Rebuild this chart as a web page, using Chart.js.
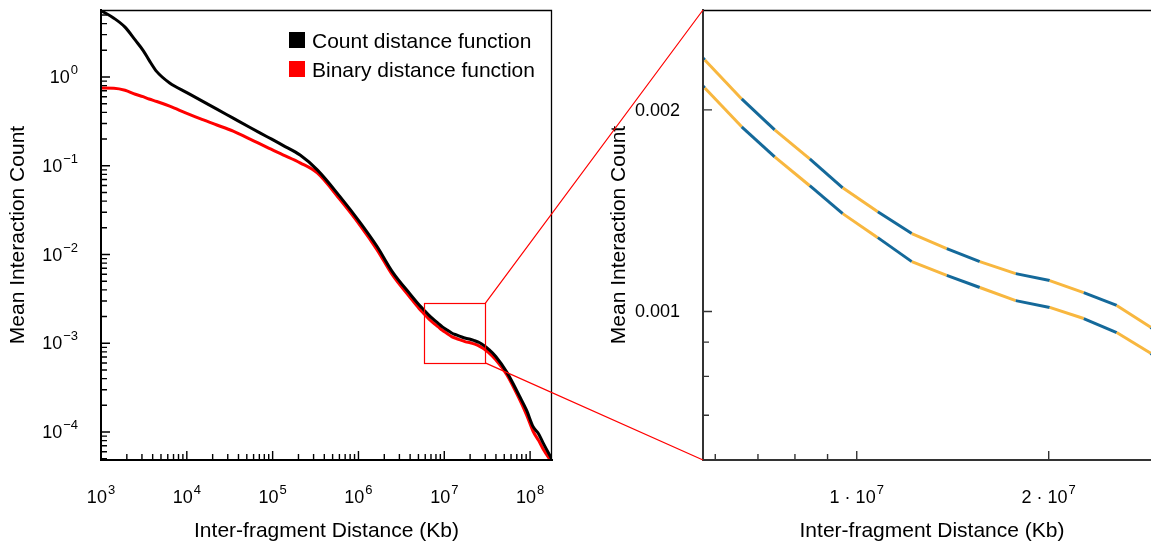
<!DOCTYPE html>
<html>
<head>
<meta charset="utf-8">
<script src="https://cdn.jsdelivr.net/npm/chart.js@4.4.1/dist/chart.umd.min.js"></script>
<style>
  html, body { margin: 0; padding: 0; background: #fff; overflow: hidden; }
  #wrap { position: relative; width: 1151px; height: 546px; overflow: hidden; background: #fff; }
  #c1 { position: absolute; left: 0; top: 0; }
  #c2 { position: absolute; left: 580px; top: 0; }
  #ov { position: absolute; left: 0; top: 0; pointer-events: none; }
  .lg { position: absolute; font: 21px "Liberation Sans", Arial, Helvetica, sans-serif; color: #000; line-height: 21px; white-space: nowrap; }
  .sw { position: absolute; width: 16px; height: 16px; }
</style>
</head>
<body>
<div id="wrap">
  <canvas id="c1" width="560" height="546"></canvas>
  <canvas id="c2" width="600" height="546"></canvas>
  <canvas id="ov" width="1151" height="546"></canvas>
  <div id="legend"></div>
</div>
<script>
// ---------------- data ----------------
const distanceKb = [1000, 1413, 1905, 2512, 3090, 3631, 4467, 6310, 10000, 14256, 22387, 34674, 54576, 85114,
  131826, 208930, 331131, 609537, 1047129, 1648162, 2511886, 3981072, 5105000,
  5778000, 6601000, 7436000, 8440000, 9506000, 10790000, 12199000, 13840000, 15595000, 17755000,
  20073000, 22694000, 25567000, 28907000, 32680000, 39810000, 53700000, 75860000, 91200000,
  108390000, 125890000, 141250000, 180300000];
const countDistance = [5.6, 4.6, 3.65, 2.6, 2.0, 1.55, 1.15, 0.857, 0.668, 0.552, 0.435, 0.344, 0.270, 0.214,
  0.170, 0.132, 0.090, 0.0449, 0.0229, 0.0123, 0.0063, 0.0036, 0.0027,
  0.002375, 0.002077, 0.001867, 0.001690, 0.001530, 0.001409, 0.001307, 0.001241, 0.001187, 0.001139,
  0.001112, 0.001067, 0.001021, 0.000947, 0.00086, 0.00071, 0.00047, 0.00025, 0.000175,
  0.000115, 0.000095, 0.000076, 0.000049];
const binaryDistance = [0.752, 0.748, 0.71, 0.64, 0.60, 0.565, 0.53, 0.47, 0.389, 0.339, 0.288, 0.245, 0.200, 0.162,
  0.133, 0.108, 0.083, 0.0415, 0.0212, 0.0113, 0.0058, 0.0033, 0.00245,
  0.002157, 0.001887, 0.001702, 0.001541, 0.001400, 0.001289, 0.001187, 0.001132, 0.001086, 0.001038,
  0.001014, 0.000976, 0.000930, 0.000866, 0.000787, 0.00065, 0.00044, 0.00023, 0.000155,
  0.000102, 0.00008, 0.000065, 0.000045];
const seriesNames = ['Count distance function', 'Binary distance function'];

const leftXRange = [1e3, 1.8e8];
const leftYRange = [4.84e-5, 5.69];
const leftXTicks = [1e3, 1e4, 1e5, 1e6, 1e7, 1e8];
const leftXTickLabels = [['10', '3'], ['10', '4'], ['10', '5'], ['10', '6'], ['10', '7'], ['10', '8']];
const leftYTicks = [1e-4, 1e-3, 1e-2, 1e-1, 1];
const leftYTickLabels = [['10', '−4'], ['10', '−3'], ['10', '−2'], ['10', '−1'], ['10', '0']];
const minorMultipliers = [2, 3, 4, 5, 6, 7, 8, 9];
const leftXMinorDecades = [1e3, 1e4, 1e5, 1e6, 1e7];
const leftYMinorDecades = [1e-5, 1e-4, 1e-3, 1e-2, 1e-1, 1];

const zoomXRange = [5.74e6, 3.0e7];
const zoomYRange = [6.02e-4, 2.82e-3];
const rightXTicks = [1e7, 2e7];
const rightXTickLabels = [['1 · 10', '7'], ['2 · 10', '7']];
const rightYTicks = [0.001, 0.002];
const rightYTickLabels = [['0.001', ''], ['0.002', '']];
const rightXMinorTicks = [6e6, 7e6, 8e6, 9e6];
const rightYMinorTicks = [7e-4, 8e-4, 9e-4];

const xTitle = 'Inter-fragment Distance (Kb)';
const yTitle = 'Mean Interaction Count';

// ---------------- styles ----------------
const FONT = '"Liberation Sans", Arial, Helvetica, sans-serif';
const BLUE = '#14699a';
const YELLOW = '#f8b73f';
const minorsOf = (decades) => decades.flatMap(d => minorMultipliers.map(m => m * d));

const axisFrame = {
  id: 'axisFrame',
  afterDatasetsDraw(chart, args, o) {
    const { ctx, chartArea: a } = chart;
    const xs = chart.scales.x, ys = chart.scales.y;
    ctx.save();
    if (o.box) {
      const x0 = Math.round(xs.getPixelForValue(o.box.x[0])), x1 = Math.round(xs.getPixelForValue(o.box.x[1]));
      const y0 = Math.round(ys.getPixelForValue(o.box.y[1])), y1 = Math.round(ys.getPixelForValue(o.box.y[0]));
      ctx.strokeStyle = o.box.color; ctx.lineWidth = 1.2;
      ctx.strokeRect(x0 + 0.5, y0 + 0.5, x1 - x0, y1 - y0);
    }
    ctx.strokeStyle = o.frameColor; ctx.lineWidth = 1.3;
    ctx.beginPath();
    ctx.moveTo(a.left, a.top + 0.5); ctx.lineTo(a.right - 0.5, a.top + 0.5); ctx.lineTo(a.right - 0.5, a.bottom);
    ctx.stroke();
    ctx.strokeStyle = o.axisColor; ctx.lineWidth = 1.4;
    ctx.beginPath();
    const tickX = (vals, len) => vals.forEach(v => {
      const p = xs.getPixelForValue(v);
      if (p < a.left - 0.5 || p > a.right + 0.5) return;
      ctx.moveTo(p, a.bottom); ctx.lineTo(p, a.bottom - len);
    });
    const tickY = (vals, len) => vals.forEach(v => {
      const p = ys.getPixelForValue(v);
      if (p < a.top - 0.5 || p > a.bottom + 0.5) return;
      ctx.moveTo(a.left, p); ctx.lineTo(a.left + len, p);
    });
    tickX(xs.ticks.map(t => t.value), o.majorLen);
    tickX(o.xMinor, o.minorLen);
    tickY(ys.ticks.map(t => t.value), o.majorLen);
    tickY(o.yMinor, o.minorLen);
    ctx.stroke();
    ctx.lineWidth = o.axisWidth; ctx.lineCap = 'square';
    ctx.beginPath();
    ctx.moveTo(a.left, a.top); ctx.lineTo(a.left, a.bottom); ctx.lineTo(a.right, a.bottom);
    ctx.stroke();
    ctx.restore();
  }
};

// tick labels with real superscript exponents
const expLabels = {
  id: 'expLabels',
  afterDraw(chart, args, o) {
    const { ctx, chartArea: a } = chart;
    ctx.save();
    ctx.fillStyle = '#000';
    ctx.textBaseline = 'alphabetic';
    ctx.textAlign = 'left';
    const baseFont = o.size + 'px ' + FONT, expFont = o.expSize + 'px ' + FONT;
    const draw = (scale, labels, isX) => {
      scale.ticks.forEach((t, i) => {
        const base = labels[i][0], exp = labels[i][1];
        const p = scale.getPixelForValue(t.value);
        ctx.font = baseFont; const wb = ctx.measureText(base).width;
        ctx.font = expFont; const we = exp ? ctx.measureText(exp).width + o.gap : 0;
        let x0, yb;
        if (isX) { x0 = p - (wb + we) / 2; yb = a.bottom + o.xBaseline; }
        else { x0 = a.left - o.yPad - wb - we; yb = p + o.yShift; }
        ctx.font = baseFont; ctx.fillText(base, x0, yb);
        if (exp) { ctx.font = expFont; ctx.fillText(exp, x0 + wb + o.gap, yb - o.raise); }
      });
    };
    draw(chart.scales.x, o.xLabels, true);
    draw(chart.scales.y, o.yLabels, false);
    ctx.restore();
  }
};

function fixedY(width) {
  return s => { s.width = width; s.paddingTop = 0; s.paddingBottom = 0; s.paddingLeft = 0; s.paddingRight = 0; };
}
function fixedX(height) {
  return s => { s.height = height; s.paddingTop = 0; s.paddingBottom = 0; s.paddingLeft = 0; s.paddingRight = 0; };
}

function scaleOpts(range, ticks, isX, titlePad, afterFit) {
  return {
    type: 'logarithmic',
    min: range[0], max: range[1],
    grid: { display: false, drawTicks: false },
    border: { display: false },
    afterBuildTicks: s => { s.ticks = ticks.map(v => ({ value: v })); },
    afterFit,
    ticks: { display: false, autoSkip: false, maxRotation: 0, minRotation: 0 },
    title: { display: true, text: isX ? xTitle : yTitle, color: '#000',
      font: { family: FONT, size: 21 }, padding: titlePad }
  };
}

const common = {
  responsive: false, animation: false, events: [],
  plugins: { legend: { display: false }, tooltip: { enabled: false } }
};

const labelStyle = { size: 18, expSize: 13, gap: 1, raise: 9, xBaseline: 43, yPad: 23, yShift: 6 };

const toPts = vals => distanceKb.map((d, i) => ({ x: d, y: vals[i] }));

// ---------------- left chart ----------------
const c1 = new Chart(document.getElementById('c1'), {
  type: 'line',
  data: {
    datasets: [
      { label: seriesNames[0], data: toPts(countDistance), borderColor: '#000', borderWidth: 3,
        pointRadius: 0, cubicInterpolationMode: 'monotone', fill: false },
      { label: seriesNames[1], data: toPts(binaryDistance), borderColor: '#ff0000', borderWidth: 3,
        pointRadius: 0, cubicInterpolationMode: 'monotone', fill: false }
    ]
  },
  options: Object.assign({}, common, {
    parsing: false,
    layout: { padding: { top: 10, right: 8, left: 0, bottom: 0 } },
    scales: {
      x: scaleOpts(leftXRange, leftXTicks, true, { top: 0, bottom: 2 }, fixedX(86)),
      y: scaleOpts(leftYRange, leftYTicks, false, { top: 6, bottom: 0 }, fixedY(101))
    },
    plugins: Object.assign({}, common.plugins, {
      axisFrame: {
        frameColor: '#000', axisColor: '#000', axisWidth: 2, majorLen: 9, minorLen: 6,
        xMinor: minorsOf(leftXMinorDecades), yMinor: minorsOf(leftYMinorDecades),
        box: { x: zoomXRange, y: zoomYRange, color: '#ff0000' }
      },
      expLabels: Object.assign({ xLabels: leftXTickLabels, yLabels: leftYTickLabels }, labelStyle)
    })
  }),
  plugins: [axisFrame, expLabels]
});

// ---------------- right (zoom) chart ----------------
const firstZoomIdx = distanceKb.findIndex(d => d >= zoomXRange[0]) - 1;
const segColor = ctx => ((ctx.p0DataIndex - firstZoomIdx) % 2 === 0 ? BLUE : YELLOW);

const c2 = new Chart(document.getElementById('c2'), {
  type: 'line',
  data: {
    datasets: [
      { label: seriesNames[0], data: toPts(countDistance), borderColor: BLUE, borderWidth: 3,
        pointRadius: 0, tension: 0, fill: false, clip: 0, segment: { borderColor: segColor } },
      { label: seriesNames[1], data: toPts(binaryDistance), borderColor: BLUE, borderWidth: 3,
        pointRadius: 0, tension: 0, fill: false, clip: 0, segment: { borderColor: segColor } }
    ]
  },
  options: Object.assign({}, common, {
    parsing: false,
    layout: { padding: { top: 10, right: 19, left: 0, bottom: 0 } },
    scales: {
      x: scaleOpts(zoomXRange, rightXTicks, true, { top: 0, bottom: 2 }, fixedX(86)),
      y: scaleOpts(zoomYRange, rightYTicks, false, { top: 27, bottom: 0 }, fixedY(123))
    },
    plugins: Object.assign({}, common.plugins, {
      axisFrame: {
        frameColor: '#000', axisColor: '#333', axisWidth: 2, majorLen: 9, minorLen: 6,
        xMinor: rightXMinorTicks, yMinor: rightYMinorTicks
      },
      expLabels: Object.assign({ xLabels: rightXTickLabels, yLabels: rightYTickLabels }, labelStyle)
    })
  }),
  plugins: [axisFrame, expLabels]
});

// ---------------- connector lines ----------------
(function drawConnectors() {
  const ov = document.getElementById('ov').getContext('2d');
  const off2 = document.getElementById('c2').offsetLeft;
  const bx = c1.scales.x.getPixelForValue(zoomXRange[1]);
  const byTop = c1.scales.y.getPixelForValue(zoomYRange[1]);
  const byBot = c1.scales.y.getPixelForValue(zoomYRange[0]);
  const a2 = c2.chartArea;
  ov.strokeStyle = '#ff0000';
  ov.lineWidth = 1.2;
  ov.beginPath();
  ov.moveTo(bx, byTop); ov.lineTo(off2 + a2.left, a2.top);
  ov.moveTo(bx, byBot); ov.lineTo(off2 + a2.left, a2.bottom);
  ov.stroke();
})();

// ---------------- legend ----------------
(function buildLegend() {
  const lg = document.getElementById('legend');
  const colors = ['#000', '#ff0000'];
  const a = c1.chartArea;
  seriesNames.forEach((name, i) => {
    const top = a.top + 22 + i * 29;
    const sw = document.createElement('div');
    sw.className = 'sw'; sw.style.background = colors[i];
    sw.style.left = (a.left + 188) + 'px'; sw.style.top = top + 'px';
    const tx = document.createElement('div');
    tx.className = 'lg'; tx.textContent = name;
    tx.style.left = (a.left + 211) + 'px'; tx.style.top = (top - 2.5) + 'px';
    lg.appendChild(sw); lg.appendChild(tx);
  });
})();
</script>
</body>
</html>
